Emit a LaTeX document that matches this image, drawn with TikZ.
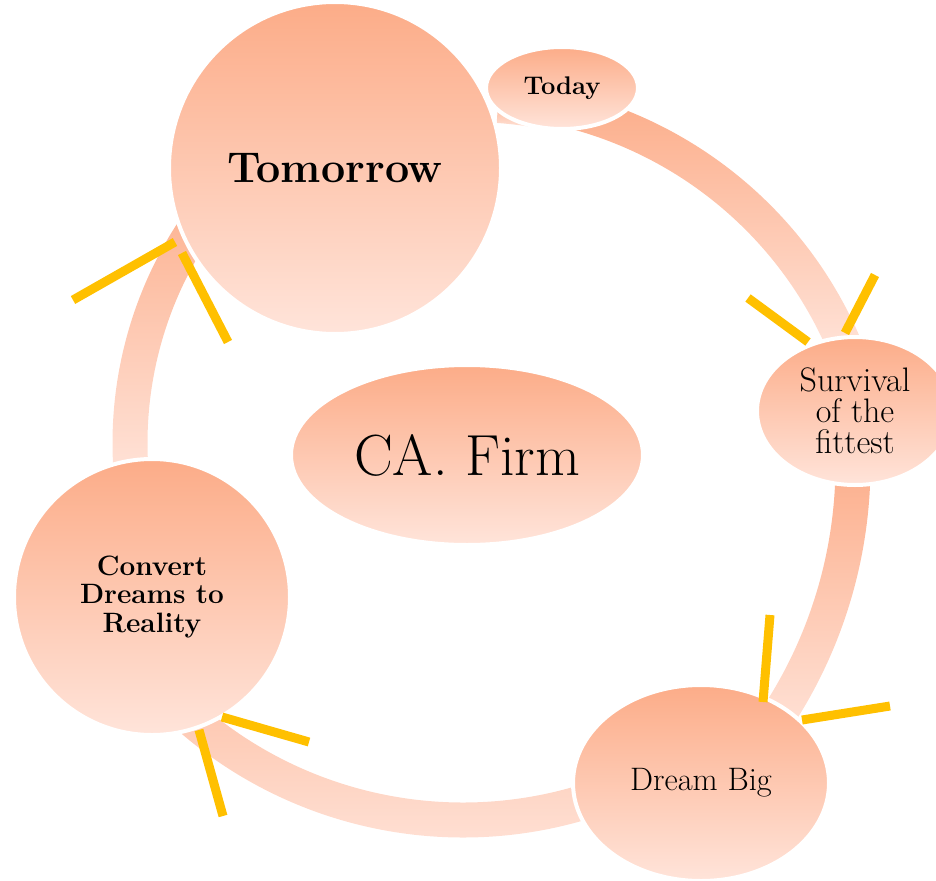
\documentclass[tikz,border=0pt]{standalone}
\usepackage{fontspec}
\setmainfont{Latin Modern Roman}
\usetikzlibrary{shapes.geometric}
\definecolor{topc}{RGB}{252,172,136}
\definecolor{botc}{RGB}{255,228,218}
\definecolor{yel}{RGB}{255,192,0}
% centre x, centre y, inner radius, outer radius, start angle, end angle, top colour
\newcommand\ribbonarc[7]{%
  \begin{scope}[shift={(#1,#2)}]
    \shade[top color=#7, bottom color=botc]
      (#5:#4) arc[start angle=#5, end angle=#6, radius=#4]
      -- (#6:#3) arc[start angle=#6, end angle=#5, radius=#3] -- cycle;
  \end{scope}}
\begin{document}
\begin{tikzpicture}[x=1pt,y=-1pt,
  nodebox/.style={draw=white, line width=4pt, top color=topc, bottom color=botc,
    inner sep=0pt, align=center, text=black},
  yline/.style={draw=yel, line width=9pt}]
\useasboundingbox (0,0) rectangle (936,880);
% connecting arcs
\ribbonarc{470}{505}{383}{407}{-86}{-79}{topc}
\ribbonarc{470}{505}{389.5}{424.5}{-78}{-22}{topc}
\ribbonarc{392}{464}{443.5}{478.5}{-2}{36}{topc}
\ribbonarc{463}{404}{398.5}{433.5}{70}{133}{topc!55!botc}
\ribbonarc{517}{443}{369.5}{404.5}{174}{215}{topc!85!botc}
% nodes
\node[nodebox, circle, minimum size=332pt, font=\fontsize{43}{50}\selectfont\bfseries]
  (tom) at (335,168) {Tomorrow};
\node[nodebox, ellipse, minimum width=152pt, minimum height=82pt, font=\fontsize{25.5}{30}\selectfont\bfseries]
  (today) at (562,88) {Today};
\node[nodebox, ellipse, minimum width=196pt, minimum height=148pt, font=\fontsize{34}{31}\selectfont]
  (surv) at (855,411) {Survival\\of the\\fittest};
\node[nodebox, ellipse, minimum width=256pt, minimum height=196pt, font=\fontsize{32.5}{36}\selectfont]
  (dream) at (701,783) {Dream Big};
\node[nodebox, circle, minimum size=276pt, font=\fontsize{28}{28.5}\selectfont\bfseries]
  (conv) at (152,597) {Convert\\Dreams to\\Reality};
\node[nodebox, ellipse, minimum width=352pt, minimum height=180pt, font=\fontsize{58}{64}\selectfont]
  (firm) at (467,455) {CA. Firm};
% yellow marks
\draw[yline] (73,300) -- (175,242);
\draw[yline] (182,253) -- (228,342);
\draw[yline] (748,298) -- (808,342);
\draw[yline] (875,275) -- (845,333);
\draw[yline] (770,615) -- (763,702);
\draw[yline] (802,720) -- (890,706);
\draw[yline] (222,717) -- (309,742);
\draw[yline] (199,730) -- (223,816);
\end{tikzpicture}
\end{document}
